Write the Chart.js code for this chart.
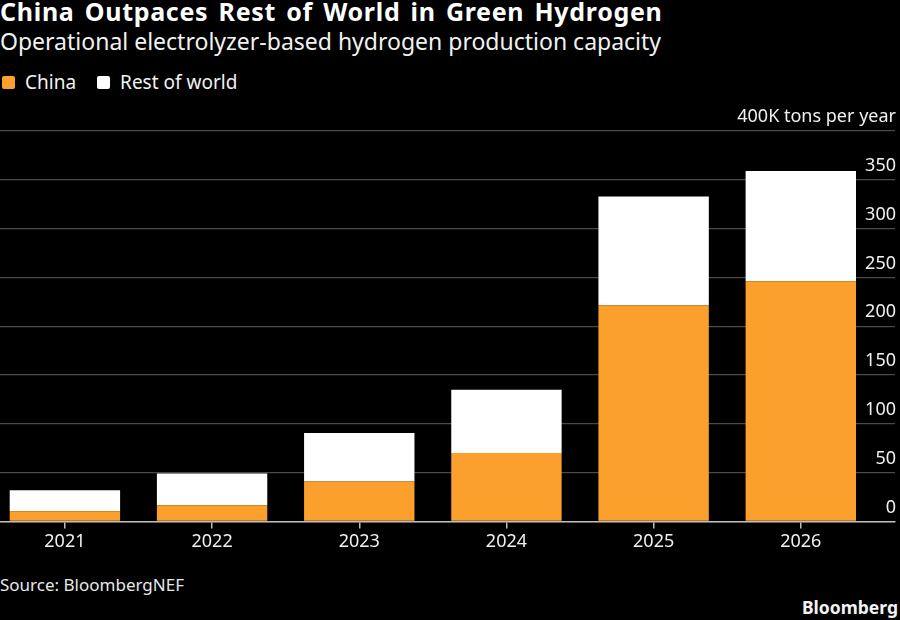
<!DOCTYPE html>
<html>
<head>
<meta charset="utf-8">
<script src="https://cdn.jsdelivr.net/npm/chart.js@4.4.1/dist/chart.umd.min.js"></script>
<style>
  html, body { margin: 0; padding: 0; background: #000; }
  body { width: 900px; height: 620px; position: relative; overflow: hidden; font-family: 'Noto Sans', sans-serif; color: #fff; }
  #title { position: absolute; left: 0; top: -6px; font-size: 25px; font-weight: bold; letter-spacing: 0.7px; word-spacing: 3px; white-space: nowrap; }
  #subtitle { position: absolute; left: 0; top: 25px; font-size: 23px; white-space: nowrap; color: #f2f2f2; }
  #legend { position: absolute; left: 2px; top: 69px; font-size: 19px; display: flex; white-space: nowrap; color: #f2f2f2; }
  .item { display: flex; align-items: center; margin-right: 21px; }
  .sw { width: 13px; height: 13px; border-radius: 2px; margin-right: 10px; }
  #wrap { position: absolute; left: 0; top: 95px; width: 900px; height: 465px; }
  #source { position: absolute; left: 0; top: 573px; font-size: 17px; color: #e8e8e8; white-space: nowrap; }
  #brand { position: absolute; right: 2px; top: 595px; font-size: 17.5px; font-weight: bold; color: #f2f2f2; }
</style>
</head>
<body>
<div id="title">China Outpaces Rest of World in Green Hydrogen</div>
<div id="subtitle">Operational electrolyzer-based hydrogen production capacity</div>
<div id="legend"></div>
<div id="wrap"><canvas id="c"></canvas></div>
<div id="source">Source: BloombergNEF</div>
<div id="brand">Bloomberg</div>
<script>
const categories = ['2021', '2022', '2023', '2024', '2025', '2026'];
const chinaValues = [10.5, 16.5, 41, 70, 221.5, 246];
const restOfWorldValues = [21.5, 32.5, 49.5, 65, 111.5, 113];
const yTicks = [0, 50, 100, 150, 200, 250, 300, 350, 400];
const topTickLabel = '400K tons per year';
const seriesNames = ['China', 'Rest of world'];
const seriesColors = ['#fca02d', '#ffffff'];

const legend = document.getElementById('legend');
seriesNames.forEach((n, i) => {
  const it = document.createElement('div');
  it.className = 'item';
  const sw = document.createElement('div');
  sw.className = 'sw';
  sw.style.background = seriesColors[i];
  const t = document.createElement('span');
  t.textContent = n;
  it.appendChild(sw); it.appendChild(t);
  legend.appendChild(it);
});

Chart.defaults.font.family = "'Noto Sans', sans-serif";

const toPoints = arr => arr.map((v, i) => ({ x: Number(categories[i]), y: v }));

new Chart(document.getElementById('c'), {
  type: 'bar',
  data: {
    datasets: [
      { label: seriesNames[0], data: toPoints(chinaValues), backgroundColor: seriesColors[0], barPercentage: 0.75, categoryPercentage: 1 },
      { label: seriesNames[1], data: toPoints(restOfWorldValues), backgroundColor: seriesColors[1], barPercentage: 0.75, categoryPercentage: 1 }
    ]
  },
  options: {
    responsive: true,
    maintainAspectRatio: false,
    animation: false,
    layout: { padding: { top: 36, right: 3, left: 0, bottom: 4 } },
    plugins: { legend: { display: false }, tooltip: { enabled: false } },
    scales: {
      x: {
        type: 'linear',
        stacked: true,
        offset: false,
        min: 2020.559,
        max: 2026.64,
        grid: { offset: false, drawOnChartArea: false, drawTicks: true, tickLength: 7, color: '#bdbdbd', lineWidth: 1.5 },
        border: { display: true, color: '#bdbdbd', width: 1.5 },
        ticks: {
          stepSize: 1,
          includeBounds: false,
          padding: 3,
          color: '#f0f0f0',
          font: { size: 18 },
          callback: v => String(v)
        }
      },
      y: {
        position: 'right',
        stacked: true,
        min: 0,
        max: 400,
        afterBuildTicks: s => { s.ticks = yTicks.map(v => ({ value: v })); },
        grid: { drawTicks: false, color: '#4a4a4a', lineWidth: 1.2 },
        border: { display: false },
        ticks: {
          mirror: true,
          padding: 1,
          labelOffset: -14,
          color: '#f0f0f0',
          font: { size: 18 },
          callback: v => v === 400 ? topTickLabel : String(v)
        }
      }
    }
  }
});
</script>
</body>
</html>
